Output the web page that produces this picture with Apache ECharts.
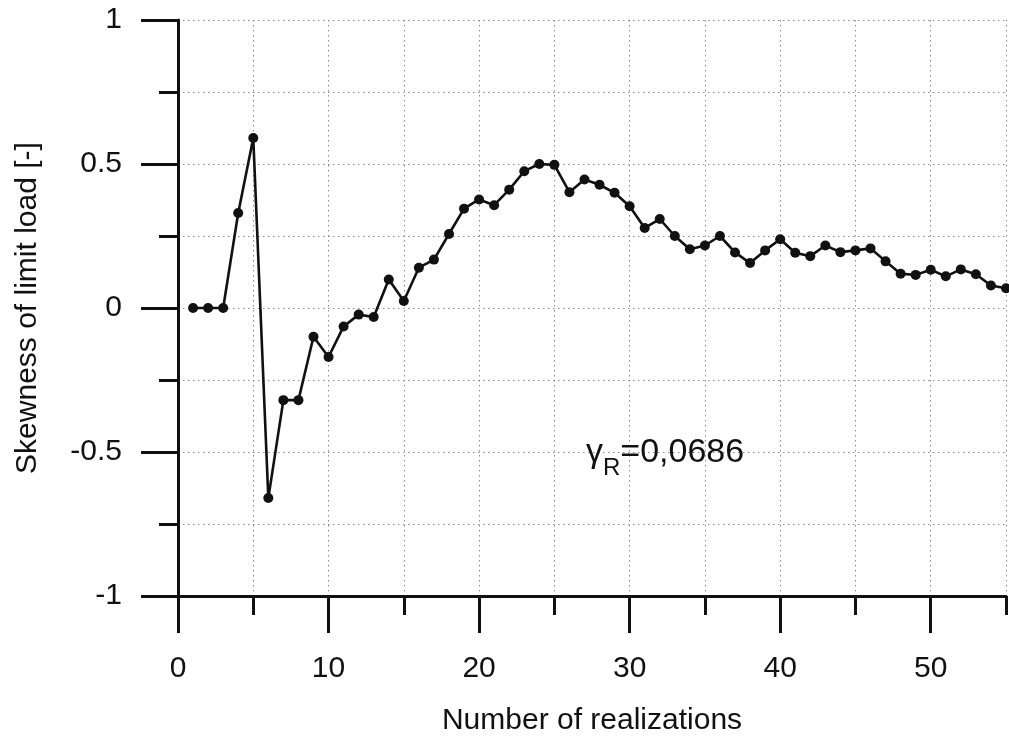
<!DOCTYPE html>
<html>
<head>
<meta charset="utf-8">
<title>Skewness of limit load</title>
<script src="https://cdn.jsdelivr.net/npm/echarts@6/dist/echarts.min.js"></script>
<style>
  html, body { margin: 0; padding: 0; background: #ffffff; }
  #chart { width: 1009px; height: 738px; }
</style>
</head>
<body>
<div id="chart"></div>
<script>
// Number of realizations (x) and running skewness of the limit load (y)
const realizations = [
  1, 2, 3, 4, 5, 6, 7, 8, 9, 10,
  11, 12, 13, 14, 15, 16, 17, 18, 19, 20,
  21, 22, 23, 24, 25, 26, 27, 28, 29, 30,
  31, 32, 33, 34, 35, 36, 37, 38, 39, 40,
  41, 42, 43, 44, 45, 46, 47, 48, 49, 50,
  51, 52, 53, 54, 55
];
const skewness = [
  0, 0, 0, 0.33, 0.59, -0.66, -0.32, -0.32, -0.10, -0.17,
  -0.064, -0.023, -0.031, 0.099, 0.024, 0.14, 0.168, 0.257, 0.345, 0.377,
  0.357, 0.411, 0.475, 0.50, 0.497, 0.402, 0.446, 0.428, 0.40, 0.353,
  0.278, 0.309, 0.25, 0.204, 0.217, 0.25, 0.193, 0.156, 0.20, 0.239,
  0.192, 0.18, 0.217, 0.194, 0.20, 0.207, 0.162, 0.119, 0.115, 0.133,
  0.11, 0.134, 0.117, 0.078, 0.0686
];
const xMajorTicks = [0, 10, 20, 30, 40, 50];
const finalSkewness = '0,0686';

const FONT = "'Liberation Sans', Arial, sans-serif";
const INK = '#111111';
const GRID_LINE = { show: true, lineStyle: { color: '#8a8a8a', width: 1, type: [1.5, 3.5] } };

const chart = echarts.init(document.getElementById('chart'), null, { renderer: 'canvas' });

chart.setOption({
  animation: false,
  backgroundColor: '#ffffff',
  grid: { left: 178, right: 3, top: 20, bottom: 142, containLabel: false, outerBoundsMode: 'none' },
  xAxis: [
    {
      type: 'value', min: 0, max: 55, interval: 5, position: 'bottom',
      name: 'Number of realizations', nameLocation: 'middle', nameGap: 110,
      nameTextStyle: { fontFamily: FONT, fontSize: 30, color: INK },
      axisLine: { show: true, onZero: false, lineStyle: { color: INK, width: 3 } },
      axisTick: { show: true, length: 19, lineStyle: { color: INK, width: 3 } },
      axisLabel: {
        margin: 58, fontFamily: FONT, fontSize: 30, color: INK,
        formatter: v => (v % 10 === 0 && v <= 50 ? String(v) : '')
      },
      splitLine: GRID_LINE
    },
    {
      // long ticks at every ten realizations
      type: 'value', min: 0, max: 55, interval: 5, position: 'bottom',
      axisLine: { show: false, onZero: false },
      axisTick: { show: true, length: 37, customValues: xMajorTicks, lineStyle: { color: INK, width: 3 } },
      axisLabel: { show: false },
      splitLine: { show: false }
    }
  ],
  yAxis: {
    type: 'value', min: -1, max: 1, interval: 0.5,
    name: 'Skewness of limit load [-]', nameLocation: 'middle', nameGap: 135, nameRotate: 90,
    nameTextStyle: { fontFamily: FONT, fontSize: 30, color: INK },
    axisLine: { show: true, onZero: false, lineStyle: { color: INK, width: 3 } },
    axisTick: { show: true, length: 37, lineStyle: { color: INK, width: 3 } },
    minorTick: { show: true, splitNumber: 2, length: 19, lineStyle: { color: INK, width: 3 } },
    axisLabel: { margin: 56, fontFamily: FONT, fontSize: 30, color: INK },
    splitLine: GRID_LINE,
    minorSplitLine: GRID_LINE
  },
  graphic: [
    {
      type: 'text', left: 586, top: 436, z: 10,
      style: {
        text: '{g|γ}{s|R}{t|=' + finalSkewness + '}',
        rich: {
          g: { fontFamily: FONT, fontSize: 34, fill: INK, verticalAlign: 'bottom' },
          s: { fontFamily: FONT, fontSize: 24, fill: INK, verticalAlign: 'bottom', padding: [0, 0, -10, 0] },
          t: { fontFamily: FONT, fontSize: 34, fill: INK, verticalAlign: 'bottom' }
        }
      }
    }
  ],
  series: [
    {
      type: 'line', xAxisIndex: 0, yAxisIndex: 0,
      data: realizations.map((x, i) => [x, skewness[i]]),
      symbol: 'circle', symbolSize: 10,
      itemStyle: { color: INK },
      lineStyle: { color: INK, width: 2.6 },
      clip: false
    }
  ]
});
</script>
</body>
</html>
